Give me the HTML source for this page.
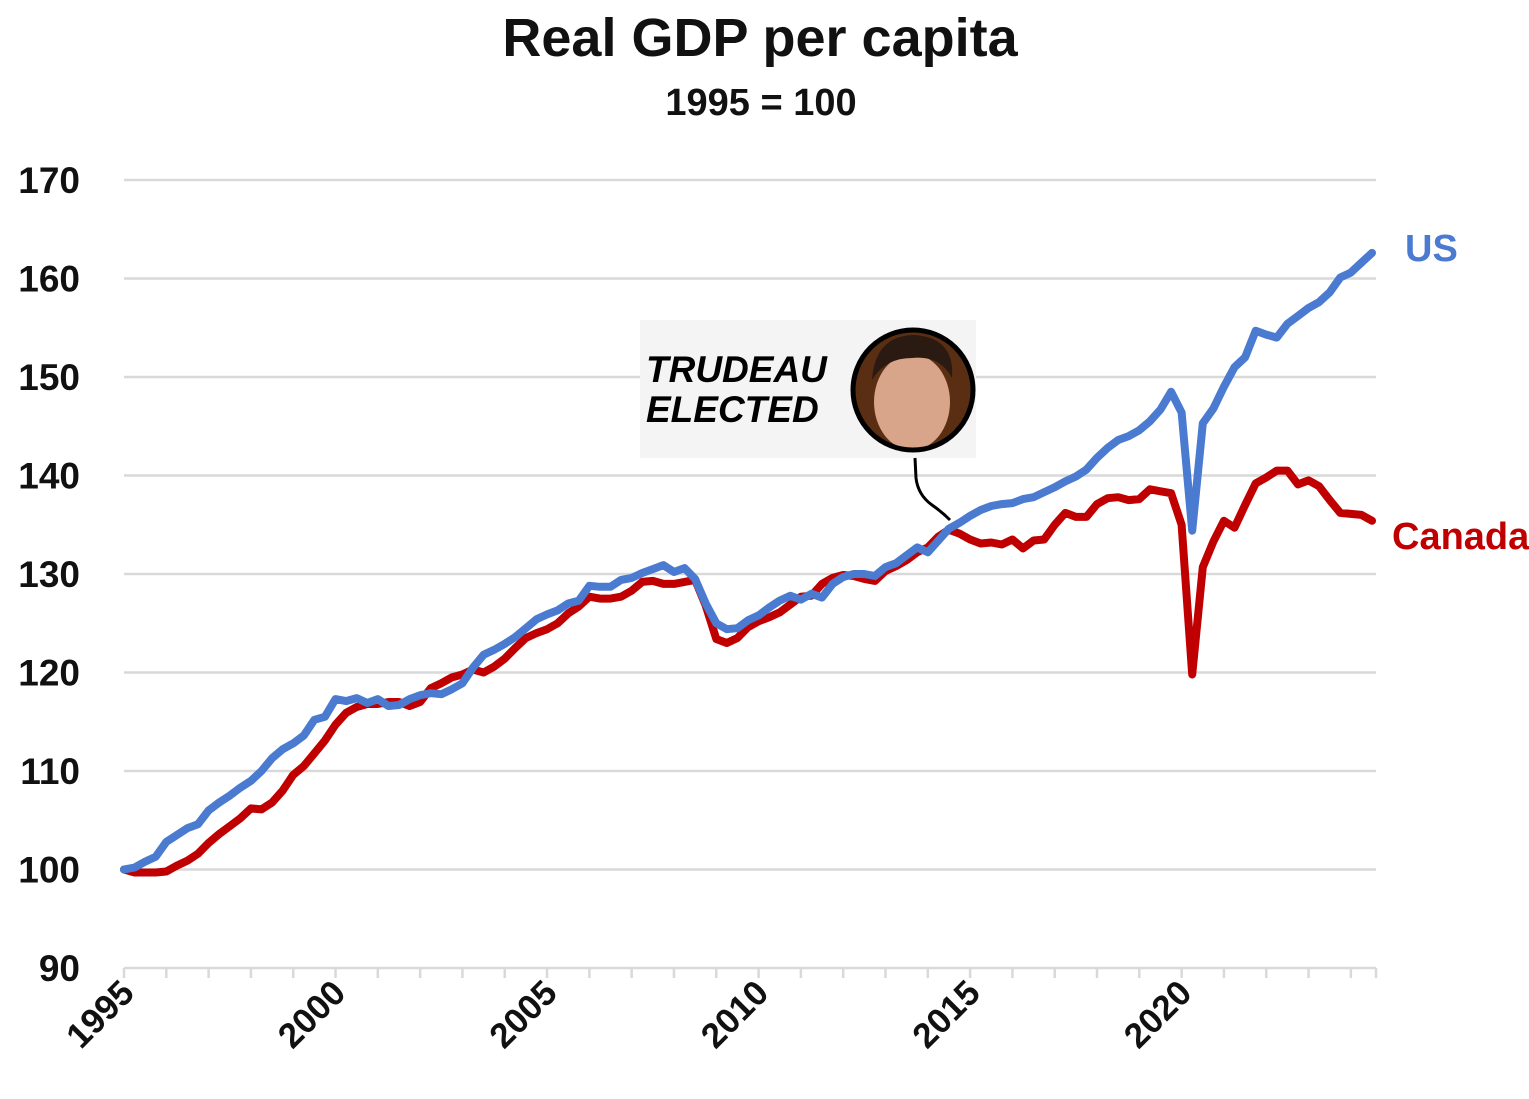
<!DOCTYPE html>
<html><head><meta charset="utf-8"><style>
html,body{margin:0;padding:0;background:#fff;}
svg{display:block;font-family:"Liberation Sans",Arial,sans-serif;}
</style></head><body>
<svg id="chart" width="1529" height="1099" viewBox="0 0 1529 1099" xmlns="http://www.w3.org/2000/svg">
<text x="760" y="56" text-anchor="middle" font-size="54" font-weight="bold" fill="#111">Real GDP per capita</text>
<text x="761" y="115" text-anchor="middle" font-size="38" font-weight="bold" fill="#111">1995 = 100</text>
<g id="grid"></g>
<g id="yaxis"></g>
<g id="xaxis"></g>
<g id="series"></g>
<g>
  <rect x="640" y="320" width="336" height="138" fill="#f4f4f4"/>
  <text x="646" y="382" font-size="37" font-weight="900" font-style="italic" fill="#000">TRUDEAU</text>
  <text x="646" y="422" font-size="37" font-weight="900" font-style="italic" fill="#000">ELECTED</text>
  <g>
    <circle cx="913" cy="390" r="60" fill="#5a2e12"/>
    <ellipse cx="912" cy="402" rx="38" ry="48" fill="#d9a58a"/>
    <path d="M872 380 Q875 335 915 335 Q955 338 952 378 Q940 355 912 358 Q885 358 872 380Z" fill="#2a1a12"/>
    <circle cx="913" cy="390" r="60" fill="none" stroke="#000" stroke-width="5"/>
  </g>
  <path d="M915 458 L916 478 Q918 495 932 505 Q942 512 950 520" fill="none" stroke="#000" stroke-width="3"/>
</g>
<text x="1405" y="261" font-size="38" font-weight="bold" fill="#4a7bd0">US</text>
<text x="1392" y="549" font-size="38" font-weight="bold" fill="#c00000">Canada</text>
</svg>
<script>
const yTicks = [90,100,110,120,130,140,150,160,170];
const xTickLabels = ["1995","2000","2005","2010","2015","2020"];
const startYear = 1995;
const usValues = [
100,100.2,100.8,101.3, 102.8,103.5,104.2,104.6, 106,106.8,107.5,108.3, 109,110,111.3,112.2,
112.8,113.6,115.2,115.5, 117.3,117.1,117.4,116.9, 117.3,116.6,116.7,117.3, 117.7,117.9,117.8,118.3,
118.9,120.5,121.8,122.3, 122.9,123.6,124.5,125.4, 125.9,126.3,127,127.3, 128.8,128.7,128.7,129.4,
129.6,130.1,130.5,130.9, 130.2,130.6,129.5,127, 125,124.4,124.5,125.3, 125.8,126.6,127.3,127.8,
127.4,128,127.6,129, 129.7,130,130,129.8, 130.7,131.1,131.9,132.7, 132.2,133.4,134.6,135.2,
135.9,136.5,136.9,137.1, 137.2,137.6,137.8,138.3, 138.8,139.4,139.9,140.6, 141.8,142.8,143.6,144,
144.6,145.5,146.7,148.5, 146.4,134.4,145.3,146.8, 149,151,152,154.7, 154.3,154,155.4,156.2,
157,157.6,158.6,160.1, 160.6,161.6,162.6];
const canadaValues = [
100,99.7,99.7,99.7, 99.8,100.4,100.9,101.6, 102.7,103.6,104.4,105.2, 106.2,106.1,106.8,108,
109.6,110.5,111.8,113.1, 114.7,115.9,116.5,116.8, 116.8,117,117,116.6, 117,118.4,118.9,119.5,
119.8,120.3,120,120.6, 121.4,122.5,123.5,124, 124.4,125,126,126.7, 127.7,127.5,127.5,127.7,
128.3,129.2,129.3,129, 129,129.2,129.4,126.8, 123.4,123,123.5,124.6, 125.2,125.6,126.1,126.9,
127.7,127.8,129,129.6, 129.9,129.8,129.5,129.3, 130.3,130.8,131.4,132.2, 132.7,133.8,134.5,134.1,
133.5,133.1,133.2,133, 133.5,132.6,133.4,133.5, 135,136.2,135.8,135.8, 137.1,137.7,137.8,137.5,
137.6,138.6,138.4,138.2, 135,119.8,130.7,133.3, 135.4,134.7,137,139.2, 139.8,140.5,140.5,139.1,
139.5,138.9,137.5,136.2, 136.1,136,135.4];

const NS = "http://www.w3.org/2000/svg";
const X0 = 124, XLAST = 1372, XEND = 1376;
const Y0 = 968, Y1 = 180, VMIN = 90, VMAX = 170;
const n = usValues.length;
const xScale = i => X0 + i * (XLAST - X0) / (n - 1);
const yScale = v => Y0 - (v - VMIN) / (VMAX - VMIN) * (Y0 - Y1);
function mk(tag, attrs, parent) {
  const e = document.createElementNS(NS, tag);
  for (const k in attrs) e.setAttribute(k, attrs[k]);
  parent.appendChild(e);
  return e;
}
const grid = document.getElementById('grid');
const yaxis = document.getElementById('yaxis');
yTicks.forEach(v => {
  if (v > VMIN) {
    const l = mk('line', {x1: X0, x2: XEND, y1: yScale(v), y2: yScale(v), stroke: '#d9d9d9', 'stroke-width': 2.5}, grid);
    
    
  }
  const t = mk('text', {x: 80, y: yScale(v) + 13, 'text-anchor': 'end', 'font-size': 37, 'font-weight': 'bold', fill: '#111'}, yaxis);
  t.textContent = v;
  
  
});
const xaxis = document.getElementById('xaxis');
const axl = mk('line', {x1: X0, x2: XEND, y1: Y0, y2: Y0, stroke: '#d9d9d9', 'stroke-width': 2.5}, xaxis);


const nYears = Math.ceil(n / 4);
for (let k = 0; k <= nYears; k++) {
  const x = Math.min(xScale(k * 4), XEND);
  const tk = mk('line', {x1: x, x2: x, y1: Y0, y2: Y0 + 10, stroke: '#d9d9d9', 'stroke-width': 2.5}, xaxis);
  
  
}
xTickLabels.forEach(lbl => {
  const idx = (parseInt(lbl) - startYear) * 4;
  const x = xScale(idx) + 12;
  const t = mk('text', {x: x, y: 995, 'text-anchor': 'end', 'font-size': 35, 'font-weight': 'bold', fill: '#111', transform: `rotate(-45 ${x} 995)`}, xaxis);
  t.textContent = lbl;
  
  
});
const series = document.getElementById('series');
function drawLine(vals, color, name) {
  const d = vals.map((v, i) => (i ? 'L' : 'M') + xScale(i).toFixed(1) + ' ' + yScale(v).toFixed(1)).join(' ');
  const p = mk('path', {d: d, fill: 'none', stroke: color, 'stroke-width': 8, 'stroke-linejoin': 'round', 'stroke-linecap': 'round'}, series);
  
  
}
drawLine(canadaValues, '#c00000', 'canada-line');
drawLine(usValues, '#4a7bd0', 'us-line');
</script>
</body></html>
